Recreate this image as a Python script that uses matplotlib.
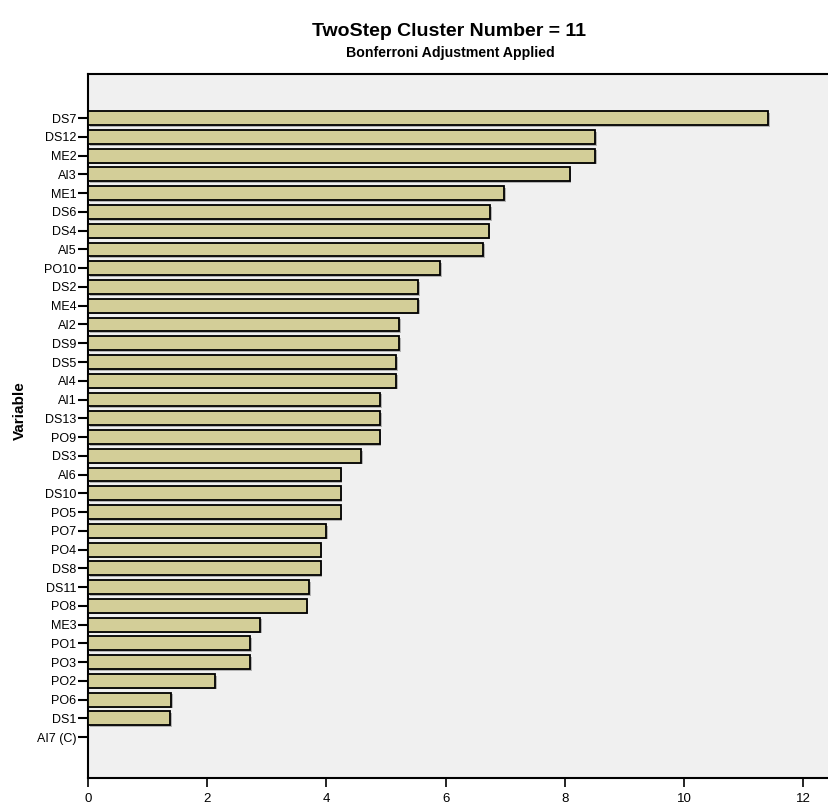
import numpy as np
import matplotlib
matplotlib.use('Agg')
import matplotlib.pyplot as plt
import matplotlib.patheffects as pe

plt.rcParams['font.family'] = ['Liberation Sans', 'DejaVu Sans']

# ----------------------------------
# DATA
# ----------------------------------
variables = [
    'DS7', 'DS12', 'ME2', 'AI3', 'ME1', 'DS6', 'DS4', 'AI5', 'PO10', 'DS2',
    'ME4', 'AI2', 'DS9', 'DS5', 'AI4', 'AI1', 'DS13', 'PO9', 'DS3', 'AI6',
    'DS10', 'PO5', 'PO7', 'PO4', 'DS8', 'DS11', 'PO8', 'ME3', 'PO1', 'PO3',
    'PO2', 'PO6', 'DS1', 'AI7 (C)'
]
values = [
    11.41, 8.51, 8.51, 8.08, 6.98, 6.75, 6.72, 6.63, 5.91, 5.54,
    5.54, 5.22, 5.22, 5.17, 5.17, 4.90, 4.90, 4.89, 4.58, 4.24,
    4.24, 4.24, 4.00, 3.90, 3.90, 3.71, 3.67, 2.89, 2.72, 2.72,
    2.13, 1.39, 1.38, np.nan
]
x_ticks = [0, 2, 4, 6, 8, 10, 12]

title = 'TwoStep Cluster Number = 11'
subtitle = 'Bonferroni Adjustment Applied'

# ----------------------------------
# PLOT
# ----------------------------------
fig = plt.figure(figsize=(8.29, 8.05), dpi=100)
fig.patch.set_facecolor('white')

ax = fig.add_axes([0.1062, 0.0330, 0.8938, 0.8750])
ax.set_facecolor('#f0f0f0')

ypos = np.arange(len(variables))
bars = ax.barh(ypos, values, height=0.74, color='#d3ce98',
               edgecolor='black', linewidth=1.3, zorder=3)
for b in bars:
    b.set_path_effects([
        pe.SimplePatchShadow(offset=(1.2, -1.2), shadow_rgbFace='#999999', alpha=0.7),
        pe.Normal()
    ])

ax.set_yticks(ypos)
ax.set_yticklabels(variables, fontsize=9)
ax.set_ylim(len(variables) - 1 + 2.2, -2.35)

ax.set_xlim(0, 12.43)
ax.set_xticks(x_ticks)
ax.set_xticklabels([str(t) for t in x_ticks], fontsize=9.5)

ax.tick_params(axis='y', length=7.5, width=1.5, pad=1)
ax.tick_params(axis='x', length=6.5, width=1.2, pad=4)

for side in ['left', 'bottom', 'top']:
    ax.spines[side].set_linewidth(1.5)
    ax.spines[side].set_color('black')
ax.spines['right'].set_visible(False)

fig.text(20 / 829, 0.49, 'Variable', rotation=90, fontsize=11,
         fontweight='bold', ha='center', va='center')

fig.text(449 / 829, 1 - 32 / 805, title, fontsize=14, fontweight='bold',
         ha='center', va='center')
fig.text(450 / 829, 1 - 53 / 805, subtitle, fontsize=10.2, fontweight='bold',
         ha='center', va='center')

fig.savefig('out.png', dpi=100)
